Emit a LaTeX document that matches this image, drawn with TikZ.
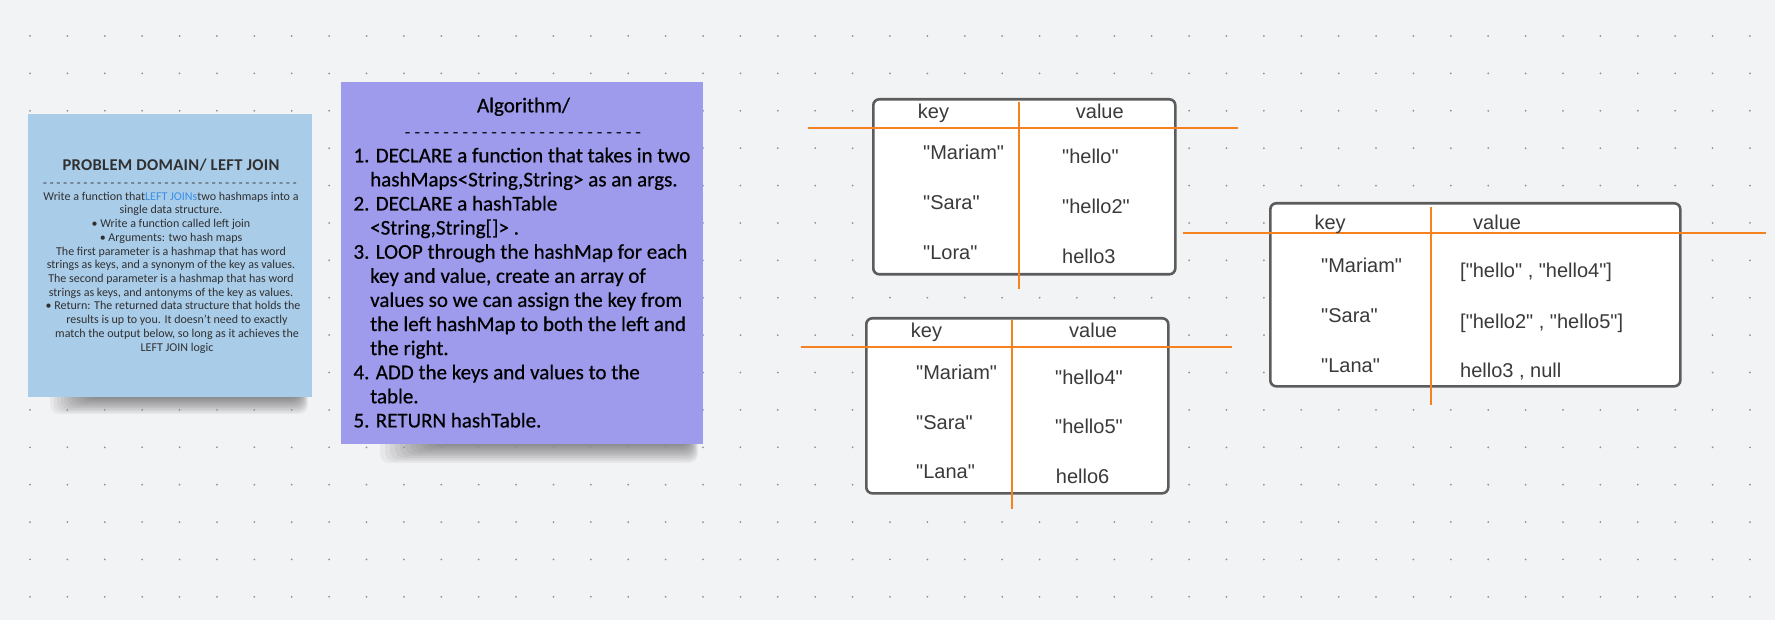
\documentclass[tikz,border=0pt]{standalone}
\usepackage{fontspec}
\setmainfont{Liberation Sans}
\newfontfamily\tabfont{Liberation Sans}
\newfontfamily\notefont{Carlito}
\newfontfamily\heavynotefont[FakeBold=0.5]{Carlito}
\newfontfamily\dashfont{Liberation Mono}
\definecolor{bg}{HTML}{F2F3F5}
\definecolor{dotc}{HTML}{8E929C}
\definecolor{noteblue}{HTML}{A9CCE9}
\definecolor{notepurple}{HTML}{9E9AEC}
\definecolor{orangeline}{HTML}{F5821F}
\definecolor{boxedge}{HTML}{5C5C5C}
\definecolor{tabtext}{HTML}{3A3A3A}
\definecolor{joinblue}{HTML}{3C8FE6}
\definecolor{notetext}{HTML}{303030}
\begin{document}
\begin{tikzpicture}[x=1pt,y=-1pt,
  note/.style={inner sep=0pt, anchor=north west},
  bluenote/.style={note, fill=noteblue},
  purplenote/.style={note, fill=notepurple},
  shadowlayer/.style={fill=black, opacity=0.045, rounded corners=9pt},
  tabbox/.style={draw=boxedge, line width=2.6pt, fill=white, rounded corners=6pt, inner sep=0pt, anchor=north west},
  divider/.style={draw=orangeline, line width=2.8pt},
  cell/.style={anchor=base west, inner sep=0pt, font=\tabfont\fontsize{20}{24}\selectfont, text=tabtext},
  bluetxt/.style={anchor=base, inner sep=0pt, font=\notefont\fontsize{12}{14}\selectfont, text=notetext},
  purpletxt/.style={anchor=base west, inner sep=0pt, font=\heavynotefont\fontsize{21}{24}\selectfont, text=black},
  dashrow/.style={anchor=base, inner sep=0pt, text=notetext}
]
\useasboundingbox (0,0) rectangle (1775,620);
\fill[bg] (0,0) rectangle (1775,620);

% shadows under the sticky notes
\foreach \s in {0,...,11} {
  \fill[shadowlayer] (50+3.5*\s,370) rectangle (308-0.8*\s,414-1.5*\s);
  \fill[shadowlayer] (380+5*\s,420) rectangle (698-0.8*\s,463-1.7*\s);
}

\foreach \i in {0,...,46}
  \foreach \j in {0,...,16}
    \fill[dotc] (30+37.39*\i, -1.39+37.39*\j) circle (1pt);

% Problem domain note
\node[bluenote, minimum width=284pt, minimum height=283pt] (pd) at (28,114) {};
\node[anchor=base, inner sep=0pt, font=\notefont\bfseries\fontsize{16.5}{20}\selectfont\addfontfeature{LetterSpace=2}, text=notetext] (pdtitle) at (171,170.5) {PROBLEM DOMAIN/ LEFT JOIN};
\node[dashrow, font=\dashfont\fontsize{11.25}{12}\selectfont] (pddash) at (170,187) {--------------------------------------};
\foreach \t/\x [count=\k from 0] in {
  {Write a function that\textcolor{joinblue}{LEFT JOINs}two hashmaps into a}/171,
  {single data structure.}/171,
  {\textbullet\ Write a function called left join}/171,
  {\textbullet\ Arguments: two hash maps}/171,
  {The first parameter is a hashmap that has word}/171,
  {strings as keys, and a synonym of the key as values.}/171,
  {The second parameter is a hashmap that has word}/171,
  {strings as keys, and antonyms of the key as values.}/171,
  {\textbullet\ Return: The returned data structure that holds the}/173,
  {results is up to you. It doesn’t need to exactly}/177,
  {match the output below, so long as it achieves the}/177,
  {LEFT JOIN logic}/177}
  \node[bluetxt] (pdl\k) at (\x, 200.3+13.7*\k) {\t};

% Algorithm note
\node[purplenote, minimum width=362pt, minimum height=362pt] (alg) at (341,82) {};
\node[anchor=base, inner sep=0pt, font=\heavynotefont\fontsize{21}{24}\selectfont] (algtitle) at (523.5,112.3) {Algorithm/};
\node[dashrow, font=\dashfont\fontsize{16}{18}\selectfont, text=black] (algdash) at (523,138) {-------------------------};
\foreach \t/\x [count=\k from 0] in {
  {1. DECLARE a function that takes in two}/353.3,
  {hashMaps<String,String> as an args.}/370,
  {2. DECLARE a hashTable}/353.3,
  {<String,String[]> .}/370,
  {3. LOOP through the hashMap for each}/353.3,
  {key and value, create an array of}/370,
  {values so we can assign the key from}/370,
  {the left hashMap to both the left and}/370,
  {the right.}/370,
  {4. ADD the keys and values to the}/353.3,
  {table.}/370,
  {5. RETURN hashTable.}/353.3}
  \node[purpletxt] (algl\k) at (\x, 162.3+24.1*\k) {\t};

% Table 1
\node[tabbox, minimum width=302pt, minimum height=175pt] (t1) at (872,98) {};
\draw[divider] (808,128) -- (1238,128);
\draw[divider] (1019,102) -- (1019,289);
\node[cell] (t1k) at (917.7,118.3) {key};
\node[cell] (t1v) at (1075.7,118.3) {value};
\node[cell] (t1a) at (923,159.3) {"Mariam"};
\node[cell] (t1b) at (923,209.3) {"Sara"};
\node[cell] (t1c) at (923,259.3) {"Lora"};
\node[cell] (t1x) at (1062,164) {"hello"};
\node[cell] (t1y) at (1062,214) {"hello2"};
\node[cell] (t1z) at (1062,264) {hello3};

% Table 2
\node[tabbox, minimum width=302pt, minimum height=175pt] (t2) at (865,317) {};
\draw[divider] (801,347) -- (1232,347);
\draw[divider] (1012,320) -- (1012,509);
\node[cell] (t2k) at (910.7,337.3) {key};
\node[cell] (t2v) at (1069,337.3) {value};
\node[cell] (t2a) at (916,379) {"Mariam"};
\node[cell] (t2b) at (916,429) {"Sara"};
\node[cell] (t2c) at (916,478.3) {"Lana"};
\node[cell] (t2x) at (1055,384) {"hello4"};
\node[cell] (t2y) at (1055,433.3) {"hello5"};
\node[cell] (t2z) at (1055.7,483.3) {hello6};

% Table 3
\node[tabbox, minimum width=410pt, minimum height=183pt] (t3) at (1269,202) {};
\draw[divider] (1183,233) -- (1766,233);
\draw[divider] (1431,207) -- (1431,405);
\node[cell] (t3k) at (1314.3,230) {key};
\node[cell] (t3v) at (1473,230) {value};
\node[cell] (t3a) at (1321,272.3) {"Mariam"};
\node[cell] (t3b) at (1321,322.3) {"Sara"};
\node[cell] (t3c) at (1321,372.3) {"Lana"};
\node[cell] (t3x) at (1460,278) {["hello" , "hello4"]};
\node[cell] (t3y) at (1460,328) {["hello2" , "hello5"]};
\node[cell] (t3z) at (1460,377) {hello3 , null};
\end{tikzpicture}
\end{document}
